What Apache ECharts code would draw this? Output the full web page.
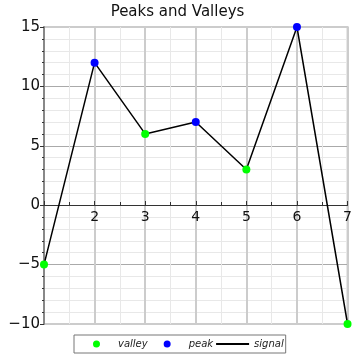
<!DOCTYPE html>
<html>
<head>
<meta charset="utf-8">
<script src="https://cdn.jsdelivr.net/npm/echarts@6/dist/echarts.min.js"></script>
<style>
  html, body { margin: 0; padding: 0; background: #fff; }
  #chart { width: 355px; height: 355px; }
</style>
</head>
<body>
<div id="chart"></div>
<script>
// signal values, x = 1..7
var xValues = [1, 2, 3, 4, 5, 6, 7];
var signalValues = [-5, 12, 6, 7, 3, 15, -10];
var valleyX = [1, 3, 5, 7];
var peakX = [2, 4, 6];

function pick(xs) {
    return xs.map(function (x) { return [x, signalValues[xValues.indexOf(x)]]; });
}

var chart = echarts.init(document.getElementById('chart'));
var font = 'DejaVu Sans';
var yMin = -10, yMax = 15;
var gridTop = 27, gridBottom = 31;
// move the x axis up so it crosses at y = 0
var plotH = 355 - gridTop - gridBottom;
var xAxisOffset = -Math.round(plotH * (0 - yMin) / (yMax - yMin));

// centred dot inside a 33x7 legend handle
var dotIcon = 'path://M0,0M33,7M16.5,0A3.5,3.5,0,1,1,16.49,0Z';

var option = {
    animation: false,
    title: {
        text: 'Peaks and Valleys',
        left: 'center',
        top: 0,
        textStyle: { fontFamily: font, fontSize: 15, fontWeight: 'normal', color: '#111' }
    },
    legend: {
        left: 74,
        bottom: 2,
        itemWidth: 33,
        itemHeight: 7,
        itemGap: 3,
        padding: [4, 2, 4, 6],
        borderColor: '#777',
        borderWidth: 1,
        textStyle: { fontFamily: font, fontSize: 10, fontStyle: 'italic', color: '#222' },
        data: [
            { name: 'valley', icon: dotIcon },
            { name: 'peak', icon: dotIcon },
            { name: 'signal', icon: 'path://M0,0H30V2H0Z', symbolKeepAspect: true, itemStyle: { color: '#000' } }
        ]
    },
    grid: {
        left: 44,
        right: 5,
        top: gridTop,
        bottom: gridBottom,
        show: true,
        borderColor: '#ccc',
        borderWidth: 2
    },
    xAxis: {
        type: 'value',
        min: 1,
        max: 7,
        interval: 1,
        position: 'bottom',
        offset: xAxisOffset,
        axisLine: { onZero: false, lineStyle: { color: '#333', width: 1 } },
        axisTick: { inside: true, length: 4, lineStyle: { color: '#333' } },
        minorTick: { show: true, splitNumber: 2, length: 3, lineStyle: { color: '#333' } },
        axisLabel: {
            fontFamily: font, fontSize: 14, color: '#111', margin: 5,
            formatter: function (v) { return v === 1 ? '' : String(v); }
        },
        splitLine: { lineStyle: { color: '#ccc', width: 2 } },
        minorSplitLine: { show: true, lineStyle: { color: '#e8e8e8', width: 1 } }
    },
    yAxis: {
        type: 'value',
        min: yMin,
        max: yMax,
        interval: 5,
        axisLine: { onZero: false, lineStyle: { color: '#888', width: 2 } },
        axisTick: { length: 4, lineStyle: { color: '#333' } },
        minorTick: { show: true, splitNumber: 5, length: 2, lineStyle: { color: '#333' } },
        axisLabel: {
            fontFamily: font, fontSize: 15, color: '#111', margin: 4,
            formatter: function (v) { return String(v).replace('-', '\u2212'); }
        },
        splitLine: {
            lineStyle: { color: ['transparent', '#aaa', '#aaa', '#aaa', '#aaa', 'transparent'], width: 1 }
        },
        minorSplitLine: { show: true, lineStyle: { color: '#e8e8e8', width: 1 } }
    },
    series: [
        {
            name: 'signal',
            type: 'line',
            data: xValues.map(function (x, i) { return [x, signalValues[i]]; }),
            symbol: 'none',
            lineStyle: { color: '#000', width: 1.5 },
            itemStyle: { color: '#000' },
            z: 3
        },
        {
            name: 'valley',
            type: 'scatter',
            data: pick(valleyX),
            symbolSize: 8,
            itemStyle: { color: '#00ff00', opacity: 1 },
            z: 4
        },
        {
            name: 'peak',
            type: 'scatter',
            data: pick(peakX),
            symbolSize: 8,
            itemStyle: { color: '#0000ff', opacity: 1 },
            z: 4
        }
    ]
};
chart.setOption(option);
</script>
</body>
</html>
